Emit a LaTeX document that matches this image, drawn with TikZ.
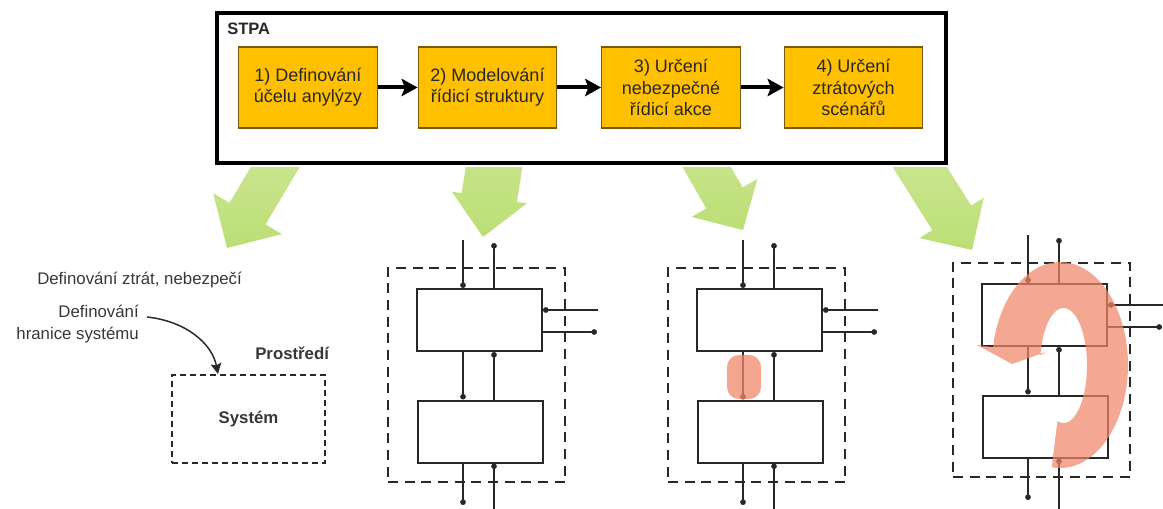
\documentclass[tikz,border=0pt]{standalone}
\usepackage{fontspec}
\setmainfont{Liberation Sans}
\usetikzlibrary{arrows.meta}
\definecolor{stpayellow}{RGB}{255,192,0}
\definecolor{stpaedge}{RGB}{120,90,10}
\definecolor{leaflight}{RGB}{218,238,170}
\definecolor{leafdark}{RGB}{188,222,118}
\definecolor{salmonred}{RGB}{240,135,105}
\definecolor{ink}{RGB}{40,40,40}
\definecolor{graytext}{RGB}{55,55,55}
\newcommand\stepfont{\fontsize{13.5}{15.8}\selectfont}
\newcommand\lowfont{\fontsize{12.6}{16.5}\selectfont}
\newcommand\leafarrow[6]{% tip x, tip y, angle, head length, head half width, shaft half width
  \pgfmathsetmacro\lux{cos(#3)}%
  \pgfmathsetmacro\luy{sin(#3)}%
  \shade[top color=leaflight,bottom color=leafdark] ({#1-200*\lux+#6*\luy},{#2-200*\luy-#6*\lux})
    -- ({#1-#4*\lux+#6*\luy},{#2-#4*\luy-#6*\lux})
    -- ({#1-#4*\lux+#5*\luy},{#2-#4*\luy-#5*\lux})
    -- (#1,#2)
    -- ({#1-#4*\lux-#5*\luy},{#2-#4*\luy+#5*\lux})
    -- ({#1-#4*\lux-#6*\luy},{#2-#4*\luy+#6*\lux})
    -- ({#1-200*\lux-#6*\luy},{#2-200*\luy+#6*\lux}) -- cycle;}
\newcommand\ctrlstruct[3]{%
  \begin{scope}[shift={(#2,#3)}]
    \node[envbox] (#1env) at (476.5,375) {};
    \node[ctrlbox] (#1up) at (479.5,320) {};
    \node[ctrlbox] (#1lo) at (480.5,431.5) {};
    \coordinate (#1a) at (463,240);
    \coordinate (#1b) at (494,243);
    \coordinate (#1c) at (598,310);
    \coordinate (#1d) at (597,332);
    \coordinate (#1e) at (463,505);
    \coordinate (#1f) at (494,520);
    \draw[sig] (#1a) -- (#1a |- #1up.north);
    \draw[sig] (#1b |- #1up.north) -- (#1b);
    \draw[sig] (#1c) -- (#1c -| #1up.east);
    \draw[sig] (#1d -| #1up.east) -- (#1d);
    \draw[sig] (#1a |- #1up.south) -- (#1a |- #1lo.north);
    \draw[sig] (#1b |- #1lo.north) -- (#1b |- #1up.south);
    \draw[sig] (#1a |- #1lo.south) -- (#1e);
    \draw[sig] (#1f) -- (#1b |- #1lo.south);
  \end{scope}}
\begin{document}
\begin{tikzpicture}[x=0.75pt,y=-0.75pt,
  stepbox/.style={draw=stpaedge,fill=stpayellow,line width=0.9pt,minimum width=104pt,
    minimum height=60.75pt,inner sep=0pt,align=center,text=ink,font=\stepfont},
  frame/.style={draw=black,line width=3.2pt,minimum width=546.75pt,minimum height=112.5pt,inner sep=0pt},
  flow/.style={line width=3pt,-{Stealth[length=12pt,width=13pt,inset=2.5pt]}},
  envbox/.style={draw=ink,line width=2.1pt,dash pattern=on 7.5pt off 5pt,minimum width=132.75pt,
    minimum height=160.5pt,inner sep=0pt},
  ctrlbox/.style={draw=ink,line width=1.5pt,minimum width=93.75pt,minimum height=46.5pt,inner sep=0pt},
  sig/.style={draw=ink,line width=0.9pt,-{Circle[length=4.2pt]}},
  sysbox/.style={draw=ink,line width=0.9pt,dash pattern=on 4.5pt off 3pt,minimum width=114.75pt,
    minimum height=66pt,inner sep=0pt},
  lowtext/.style={text=graytext,font=\lowfont,inner sep=0pt},
  hazard/.style={fill=salmonred,fill opacity=0.75,rounded corners=9pt,minimum width=25.5pt,
    minimum height=33pt,inner sep=0pt}
]
\useasboundingbox (0,0) rectangle (1163,509);
% green process arrows
\begin{scope}
  \clip (0,168) rectangle (1163,509);
  \leafarrow{227}{248}{120.8}{40}{40}{21}
  \leafarrow{483}{237}{99}{40}{38}{28}
  \leafarrow{743}{230}{60}{37}{38}{21}
  \leafarrow{972}{250}{57.8}{38}{38}{23}
\end{scope}
% STPA frame
\node[frame] (stpa) at (581.5,88) {};
\node[anchor=west,inner sep=0pt,font=\fontsize{12.4}{14}\selectfont\bfseries,text=ink] (stpalabel) at (227,29) {STPA};
\node[stepbox] (s1) at (308,87.5) {1) Definování\\účelu anylýzy};
\node[stepbox] (s2) at (487.5,87.5) {2) Modelování\\řídicí struktury};
\node[stepbox] (s3) at (671,87.5) {3) Určení\\nebezpečné\\řídicí akce};
\node[stepbox] (s4) at (853.5,87.5) {4) Určení\\ztrátových\\scénářů};
\draw[flow] (s1) -- (s2);
\draw[flow] (s2) -- (s3);
\draw[flow] (s3) -- (s4);
% step 1 sketch
\node[lowtext,anchor=west] (losses) at (37,280) {Definování ztrát, nebezpečí};
\node[lowtext,anchor=east,align=right] (boundary) at (139,324) {Definování\\hranice systému};
\node[lowtext,anchor=west,font=\lowfont\bfseries] (env) at (255,353) {Prostředí};
\node[sysbox] (sys) at (248.5,419) {};
\node[lowtext,font=\lowfont\bfseries] (systxt) at (sys.center) {Systém};
\coordinate (cstart) at (147,317);
\coordinate (cend) at (218,374);
\draw[draw=ink,line width=1.1pt,-{Stealth[length=8pt,width=8pt,inset=1.5pt]}]
  (cstart) .. controls (185,321) and (212,343) .. (cend);
% control structures
\ctrlstruct{m}{0}{0}
\ctrlstruct{u}{280}{0}
\ctrlstruct{z}{565}{-5}
% unsafe control action highlight
\node[hazard] (uca) at (744,377) {};
% loss scenario loop
\fill[salmonred,fill opacity=0.72]
  plot[domain=97:-170,samples=80] ({1060+68*cos(\x)},{365+103*sin(\x)})
  -- (977,345) -- (1012,364) -- (1046,352)
  -- plot[domain=-170:105,samples=80] ({1063.5+23.5*cos(\x)},{365.5+57.5*sin(\x)})
  -- cycle;
\end{tikzpicture}
\end{document}
